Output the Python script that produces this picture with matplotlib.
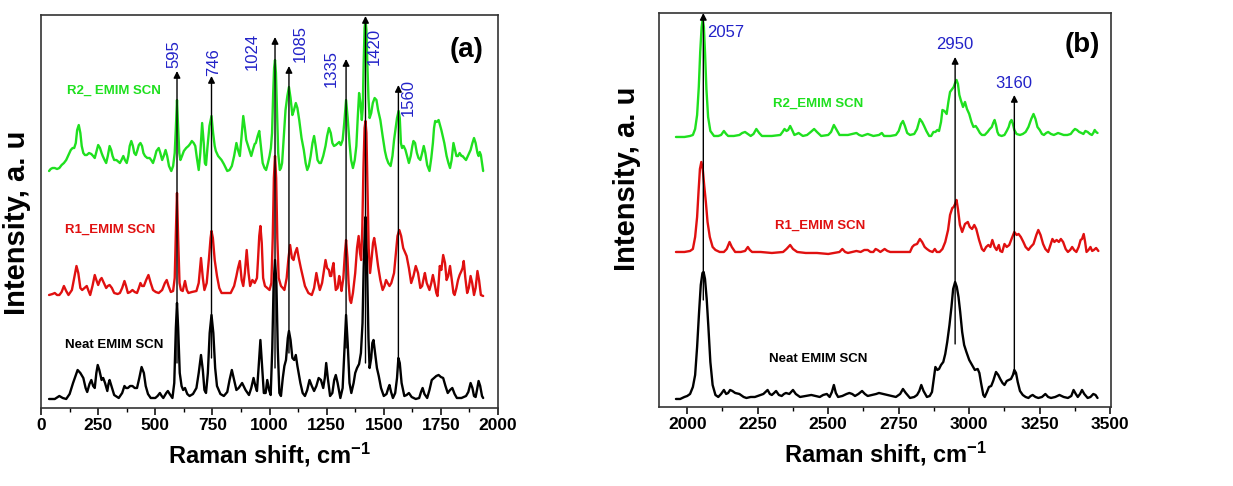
import numpy as np
import matplotlib
matplotlib.use("Agg")
import matplotlib.pyplot as plt
from matplotlib.ticker import MultipleLocator

plt.rcParams['font.family'] = ['Liberation Sans', 'DejaVu Sans']
plt.rcParams['mathtext.fontset'] = 'custom'
plt.rcParams['mathtext.rm'] = 'Liberation Sans:bold'
plt.rcParams['mathtext.default'] = 'rm'

# ==========================================
# panel (a): 0 - 2000 cm-1, (shift, intensity a.u.), spectra stacked with offsets
# ==========================================
neat_a = [(35, 9), (60, 9), (80, 12), (95, 10), (110, 9), (125, 14), (140, 25), (160, 38), (172, 35),
          (185, 30), (195, 20), (202, 16), (212, 24), (220, 28), (228, 22), (235, 20), (242, 35), (248, 43),
          (255, 38), (265, 28), (272, 30), (280, 25), (290, 17), (295, 24), (300, 28), (308, 22), (320, 13),
          (340, 10), (355, 15), (365, 22), (372, 20), (380, 20), (390, 22), (400, 22), (410, 20), (420, 20),
          (430, 30), (440, 41), (450, 35), (458, 22), (468, 14), (480, 10), (500, 10), (510, 12), (520, 15),
          (528, 12), (535, 10), (548, 15), (555, 17), (563, 14), (575, 10), (583, 25), (590, 80), (595, 105),
          (600, 80), (607, 35), (615, 22), (622, 18), (630, 20), (640, 14), (650, 12), (665, 14), (680, 20),
          (690, 35), (700, 53), (708, 38), (715, 18), (722, 15), (730, 35), (738, 75), (746, 93), (754, 75),
          (762, 40), (770, 22), (785, 14), (800, 12), (815, 16), (825, 28), (835, 38), (845, 28), (855, 18),
          (865, 20), (880, 25), (895, 18), (910, 13), (920, 20), (930, 30), (938, 22), (945, 17), (952, 40),
          (960, 68), (968, 40), (975, 15), (983, 15), (990, 28), (998, 18), (1005, 13), (1012, 60),
          (1018, 125), (1024, 148), (1030, 125), (1036, 60), (1043, 15), (1050, 12), (1058, 30), (1065, 42),
          (1072, 48), (1080, 70), (1085, 77), (1092, 68), (1100, 50), (1108, 48), (1115, 53), (1122, 42),
          (1135, 25), (1145, 15), (1155, 12), (1165, 18), (1175, 28), (1185, 22), (1195, 17), (1205, 22),
          (1215, 30), (1225, 28), (1235, 20), (1242, 30), (1248, 45), (1255, 30), (1265, 12), (1275, 15),
          (1283, 28), (1290, 33), (1298, 25), (1310, 10), (1320, 20), (1328, 60), (1335, 93), (1342, 65),
          (1350, 25), (1358, 15), (1368, 25), (1375, 35), (1383, 40), (1392, 44), (1400, 55), (1407, 85),
          (1412, 140), (1417, 180), (1420, 191), (1424, 175), (1428, 130), (1433, 70), (1438, 40), (1445, 50),
          (1450, 65), (1455, 68), (1462, 55), (1470, 40), (1478, 32), (1488, 20), (1500, 12), (1512, 14),
          (1520, 20), (1525, 23), (1532, 16), (1540, 10), (1550, 15), (1558, 30), (1564, 50), (1570, 45),
          (1578, 25), (1590, 12), (1600, 13), (1610, 15), (1622, 11), (1640, 9), (1655, 10), (1663, 16),
          (1670, 20), (1678, 14), (1690, 10), (1700, 18), (1710, 28), (1720, 30), (1730, 32), (1740, 33),
          (1750, 31), (1760, 30), (1770, 22), (1780, 15), (1790, 18), (1800, 20), (1810, 14), (1820, 10),
          (1840, 10), (1860, 12), (1870, 16), (1880, 25), (1888, 20), (1895, 12), (1902, 11), (1908, 18),
          (1915, 27), (1922, 22), (1930, 12), (1935, 10)]

r1_a = [(35, 113), (50, 114), (60, 115), (70, 113), (80, 113), (90, 116), (100, 122), (110, 117), (120, 113),
        (135, 118), (145, 130), (155, 142), (163, 135), (172, 120), (180, 118), (190, 120), (200, 122),
        (208, 117), (215, 113), (225, 122), (235, 133), (242, 128), (250, 123), (258, 128), (265, 130),
        (275, 125), (285, 120), (292, 122), (300, 123), (310, 120), (320, 115), (335, 114), (345, 115),
        (355, 120), (365, 127), (372, 122), (380, 115), (390, 116), (400, 118), (410, 116), (420, 115),
        (428, 120), (435, 125), (442, 122), (450, 122), (460, 128), (470, 133), (480, 125), (490, 118),
        (502, 116), (515, 115), (530, 118), (542, 125), (550, 128), (558, 122), (568, 116), (578, 117),
        (585, 130), (590, 175), (595, 215), (600, 170), (606, 125), (612, 118), (620, 117), (630, 127),
        (638, 118), (645, 115), (660, 116), (680, 117), (690, 125), (700, 150), (708, 130), (715, 118),
        (725, 125), (735, 150), (742, 170), (746, 177), (752, 170), (760, 148), (770, 132), (780, 120),
        (790, 115), (810, 115), (830, 115), (845, 122), (855, 132), (862, 140), (870, 147), (878, 128),
        (885, 122), (892, 135), (900, 158), (908, 135), (915, 122), (925, 128), (935, 125), (945, 130),
        (950, 150), (955, 172), (960, 182), (966, 165), (972, 130), (980, 122), (990, 120), (1000, 118),
        (1008, 125), (1014, 170), (1019, 230), (1024, 252), (1029, 230), (1034, 170), (1040, 130),
        (1050, 122), (1058, 120), (1065, 118), (1075, 130), (1083, 150), (1090, 163), (1098, 150),
        (1105, 148), (1112, 155), (1120, 160), (1128, 150), (1137, 140), (1145, 132), (1155, 122),
        (1170, 115), (1185, 113), (1195, 120), (1205, 135), (1213, 125), (1220, 118), (1230, 125),
        (1240, 140), (1245, 148), (1252, 140), (1260, 138), (1265, 132), (1270, 132), (1275, 140),
        (1280, 145), (1285, 130), (1290, 118), (1298, 120), (1305, 132), (1310, 125), (1315, 117),
        (1323, 130), (1330, 155), (1335, 168), (1341, 150), (1346, 125), (1352, 108), (1357, 105),
        (1365, 115), (1375, 135), (1383, 160), (1390, 172), (1396, 155), (1401, 148), (1406, 180),
        (1411, 240), (1416, 280), (1420, 287), (1424, 275), (1429, 220), (1434, 160), (1440, 135),
        (1447, 150), (1453, 165), (1458, 170), (1465, 160), (1475, 142), (1485, 128), (1495, 118),
        (1503, 122), (1510, 128), (1517, 125), (1525, 122), (1533, 125), (1545, 135), (1553, 155),
        (1560, 172), (1568, 178), (1576, 172), (1585, 160), (1600, 152), (1610, 140), (1620, 125),
        (1630, 132), (1640, 142), (1650, 135), (1660, 120), (1668, 122), (1675, 130), (1680, 135),
        (1688, 125), (1700, 118), (1708, 125), (1715, 133), (1722, 125), (1730, 115), (1735, 112),
        (1740, 125), (1745, 142), (1752, 138), (1760, 153), (1768, 145), (1775, 128), (1782, 132),
        (1790, 142), (1798, 128), (1805, 115), (1810, 113), (1818, 120), (1825, 128), (1832, 133),
        (1840, 137), (1845, 140), (1850, 147), (1857, 130), (1865, 115), (1872, 120), (1880, 132),
        (1887, 125), (1895, 113), (1902, 120), (1910, 137), (1917, 128), (1925, 113), (1935, 112)]

r2_a = [(35, 237), (42, 239), (50, 240), (60, 240), (70, 239), (80, 240), (90, 243), (100, 245), (110, 248),
        (120, 253), (130, 258), (138, 260), (145, 260), (152, 265), (158, 278), (165, 283), (172, 275),
        (178, 262), (185, 255), (192, 253), (200, 253), (210, 255), (220, 254), (228, 252), (235, 250),
        (242, 256), (250, 263), (258, 260), (265, 255), (270, 252), (278, 248), (285, 245), (292, 252),
        (300, 262), (307, 258), (313, 252), (320, 248), (330, 248), (345, 245), (352, 248), (360, 252),
        (367, 248), (375, 245), (382, 252), (388, 262), (395, 267), (402, 262), (408, 255), (415, 253),
        (422, 258), (428, 263), (435, 265), (442, 262), (448, 255), (455, 252), (465, 250), (475, 250),
        (482, 248), (490, 245), (497, 250), (505, 257), (515, 260), (522, 255), (530, 248), (537, 252),
        (545, 258), (552, 252), (560, 242), (570, 237), (578, 242), (585, 255), (590, 280), (595, 308),
        (600, 280), (605, 255), (610, 248), (617, 252), (625, 257), (635, 260), (645, 262), (652, 264),
        (660, 267), (668, 265), (675, 262), (682, 250), (690, 238), (697, 255), (705, 285), (712, 265),
        (717, 245), (722, 243), (728, 260), (737, 282), (746, 292), (753, 275), (760, 262), (765, 257),
        (775, 252), (790, 248), (800, 244), (815, 237), (825, 238), (835, 242), (845, 252), (855, 265),
        (862, 258), (870, 252), (877, 270), (885, 292), (892, 280), (898, 268), (905, 263), (912, 258),
        (920, 252), (927, 258), (935, 264), (940, 265), (948, 272), (955, 277), (962, 262), (970, 245),
        (978, 240), (985, 238), (993, 245), (1000, 252), (1006, 260), (1011, 275), (1016, 315), (1020, 340),
        (1024, 348), (1028, 335), (1033, 295), (1038, 255), (1045, 238), (1050, 240), (1055, 245),
        (1062, 270), (1070, 298), (1078, 312), (1085, 321), (1092, 310), (1100, 293), (1107, 298),
        (1115, 305), (1122, 300), (1130, 288), (1140, 270), (1150, 258), (1158, 245), (1165, 238),
        (1172, 242), (1180, 252), (1188, 265), (1195, 272), (1202, 262), (1210, 248), (1218, 245),
        (1225, 245), (1235, 252), (1245, 262), (1252, 272), (1260, 280), (1268, 275), (1275, 265),
        (1282, 262), (1290, 263), (1300, 265), (1305, 266), (1312, 263), (1320, 268), (1327, 285),
        (1335, 308), (1342, 290), (1350, 265), (1357, 248), (1365, 240), (1373, 248), (1380, 262),
        (1386, 290), (1392, 315), (1398, 305), (1404, 288), (1408, 300), (1412, 345), (1416, 380),
        (1420, 388), (1424, 378), (1428, 345), (1433, 310), (1438, 290), (1445, 295), (1452, 305),
        (1460, 310), (1468, 308), (1475, 298), (1485, 288), (1495, 272), (1505, 257), (1512, 250),
        (1520, 245), (1530, 242), (1538, 252), (1545, 268), (1552, 280), (1558, 290), (1565, 297),
        (1570, 290), (1575, 265), (1580, 260), (1587, 262), (1595, 258), (1602, 252), (1610, 245),
        (1618, 252), (1625, 262), (1630, 267), (1637, 265), (1645, 255), (1652, 250), (1660, 248),
        (1668, 255), (1675, 262), (1682, 255), (1690, 243), (1700, 237), (1708, 250), (1715, 265),
        (1720, 280), (1725, 287), (1732, 286), (1740, 288), (1747, 282), (1752, 278), (1758, 272),
        (1765, 265), (1775, 252), (1783, 245), (1790, 240), (1797, 248), (1805, 265), (1812, 258),
        (1818, 252), (1825, 252), (1832, 255), (1840, 252), (1845, 252), (1852, 250), (1860, 248),
        (1868, 252), (1880, 258), (1888, 265), (1895, 270), (1902, 265), (1910, 255), (1915, 252),
        (1920, 256), (1925, 253), (1930, 245), (1935, 237)]

peaks_a = [595, 746, 1024, 1085, 1335, 1420, 1564]
peak_labels_a = ['595', '746', '1024', '1085', '1335', '1420', '1560']
arrow_base_a = [45, 50, 40, 55, 60, 45, 45]
arrow_tip_a = [337, 332, 371, 342, 349, 392, 323]
label_x_a = [580, 756, 925, 1133, 1268, 1458, 1608]
label_y_a = [340, 332, 338, 346, 321, 343, 292]

# ==========================================
# panel (b): 1900 - 3500 cm-1
# ==========================================
neat_b = [(1960, 8), (1975, 8), (1990, 10), (2000, 11), (2010, 13), (2020, 20), (2028, 32), (2035, 60),
          (2042, 95), (2048, 122), (2054, 134), (2058, 135), (2063, 128), (2069, 108), (2075, 80), (2082, 45),
          (2090, 22), (2100, 12), (2110, 10), (2120, 13), (2130, 17), (2138, 13), (2145, 14), (2152, 17),
          (2160, 16), (2170, 14), (2185, 13), (2200, 10), (2210, 9), (2225, 10), (2240, 10), (2250, 11),
          (2260, 12), (2270, 13), (2285, 17), (2293, 13), (2300, 12), (2308, 14), (2315, 16), (2325, 12),
          (2335, 11), (2343, 13), (2350, 14), (2362, 13), (2375, 17), (2385, 13), (2400, 10), (2420, 11),
          (2440, 12), (2455, 11), (2470, 10), (2482, 12), (2495, 13), (2505, 10), (2513, 15), (2520, 22),
          (2527, 14), (2535, 10), (2550, 11), (2565, 13), (2575, 14), (2585, 13), (2595, 11), (2607, 13),
          (2620, 16), (2630, 13), (2640, 11), (2655, 12), (2670, 13), (2680, 14), (2695, 13), (2710, 12),
          (2725, 11), (2740, 10), (2755, 13), (2765, 18), (2775, 14), (2790, 9), (2805, 10), (2815, 12),
          (2823, 16), (2830, 22), (2838, 16), (2850, 10), (2860, 11), (2868, 15), (2875, 30), (2880, 40),
          (2887, 37), (2893, 38), (2900, 42), (2908, 45), (2915, 53), (2922, 65), (2930, 82), (2937, 100),
          (2943, 118), (2950, 125), (2956, 120), (2962, 110), (2968, 95), (2975, 75), (2982, 62), (2990, 55),
          (3000, 47), (3010, 42), (3020, 37), (3030, 38), (3036, 34), (3042, 24), (3050, 12), (3055, 10),
          (3063, 15), (3070, 20), (3078, 21), (3085, 26), (3095, 35), (3103, 32), (3110, 28), (3118, 24),
          (3125, 22), (3133, 26), (3140, 27), (3148, 28), (3155, 32), (3160, 37), (3166, 34), (3172, 25),
          (3180, 16), (3190, 12), (3200, 10), (3210, 9), (3218, 11), (3225, 12), (3235, 10), (3245, 9),
          (3258, 10), (3270, 13), (3280, 10), (3290, 9), (3305, 10), (3320, 12), (3335, 10), (3350, 9),
          (3362, 11), (3370, 17), (3378, 13), (3385, 10), (3393, 13), (3400, 17), (3408, 13), (3420, 9),
          (3430, 10), (3440, 13), (3448, 12), (3455, 9)]

r1_b = [(1960, 155), (1990, 155), (2010, 156), (2020, 158), (2028, 170), (2035, 190), (2040, 215), (2045, 238),
        (2050, 245), (2055, 238), (2060, 222), (2066, 205), (2072, 185), (2080, 170), (2090, 160), (2100, 157),
        (2115, 155), (2130, 155), (2140, 158), (2150, 165), (2158, 160), (2170, 155), (2190, 155), (2205, 156),
        (2215, 160), (2222, 157), (2230, 155), (2260, 155), (2300, 154), (2340, 155), (2352, 158), (2365, 162),
        (2375, 158), (2390, 155), (2420, 154), (2460, 154), (2500, 153), (2520, 154), (2540, 155), (2550, 158),
        (2560, 155), (2570, 154), (2585, 155), (2600, 156), (2615, 155), (2628, 157), (2640, 157), (2650, 155),
        (2660, 155), (2668, 158), (2675, 157), (2685, 155), (2700, 158), (2710, 156), (2720, 155), (2750, 155),
        (2790, 155), (2798, 160), (2805, 162), (2815, 163), (2825, 168), (2833, 165), (2842, 160), (2850, 158),
        (2860, 156), (2870, 155), (2878, 158), (2885, 155), (2895, 155), (2905, 158), (2915, 165), (2925, 177),
        (2932, 192), (2940, 199), (2945, 200), (2950, 203), (2955, 207), (2960, 198), (2967, 182), (2975, 175),
        (2985, 183), (2995, 185), (3002, 180), (3010, 178), (3018, 182), (3025, 178), (3035, 167), (3045, 158),
        (3052, 156), (3060, 160), (3068, 162), (3075, 160), (3082, 167), (3090, 160), (3097, 157), (3105, 162),
        (3110, 156), (3117, 155), (3125, 163), (3133, 160), (3142, 162), (3150, 168), (3160, 175), (3168, 172),
        (3175, 173), (3183, 170), (3192, 165), (3200, 160), (3210, 157), (3218, 160), (3228, 163), (3238, 172),
        (3245, 177), (3253, 172), (3262, 163), (3270, 158), (3280, 155), (3288, 162), (3295, 168), (3302, 165),
        (3310, 167), (3318, 165), (3325, 168), (3333, 165), (3342, 158), (3350, 155), (3358, 157), (3365, 160),
        (3372, 157), (3380, 155), (3388, 160), (3395, 167), (3400, 168), (3406, 173), (3411, 165), (3416, 155),
        (3423, 157), (3430, 160), (3436, 156), (3442, 157), (3450, 159), (3458, 156)]

r2_b = [(1960, 270), (1990, 270), (2010, 271), (2020, 272), (2028, 278), (2035, 292), (2041, 320), (2046, 355),
        (2051, 380), (2055, 388), (2059, 380), (2063, 355), (2068, 318), (2074, 290), (2082, 276), (2095, 271),
        (2110, 271), (2120, 272), (2130, 276), (2138, 273), (2145, 271), (2165, 271), (2185, 272), (2195, 274),
        (2205, 275), (2215, 273), (2225, 271), (2235, 273), (2245, 278), (2255, 274), (2265, 271), (2300, 271),
        (2330, 272), (2338, 275), (2345, 278), (2352, 276), (2358, 277), (2365, 281), (2372, 277), (2380, 272),
        (2388, 273), (2395, 274), (2410, 271), (2425, 272), (2438, 275), (2450, 278), (2460, 275), (2475, 271),
        (2500, 272), (2510, 275), (2520, 282), (2530, 277), (2540, 272), (2570, 272), (2585, 273), (2600, 274),
        (2610, 272), (2620, 271), (2630, 272), (2640, 273), (2650, 272), (2660, 271), (2680, 272), (2690, 274),
        (2698, 271), (2720, 271), (2740, 272), (2750, 276), (2758, 283), (2765, 286), (2772, 281), (2780, 274),
        (2790, 272), (2805, 273), (2815, 278), (2825, 288), (2833, 285), (2840, 281), (2848, 276), (2858, 271),
        (2865, 271), (2873, 275), (2880, 275), (2887, 277), (2893, 276), (2900, 285), (2905, 297), (2912, 296),
        (2920, 293), (2926, 305), (2932, 315), (2940, 318), (2945, 320), (2950, 324), (2955, 327), (2960, 323),
        (2965, 312), (2970, 307), (2978, 300), (2985, 305), (2992, 298), (3000, 293), (3008, 285), (3015, 280),
        (3023, 281), (3030, 278), (3038, 274), (3045, 272), (3055, 272), (3065, 275), (3073, 278), (3080, 280),
        (3085, 284), (3090, 287), (3095, 282), (3100, 275), (3105, 272), (3115, 271), (3125, 272), (3133, 276),
        (3140, 280), (3145, 285), (3150, 287), (3155, 283), (3160, 277), (3168, 273), (3180, 272), (3190, 273),
        (3200, 275), (3210, 280), (3220, 288), (3228, 293), (3235, 288), (3242, 280), (3250, 277), (3258, 273),
        (3265, 272), (3273, 274), (3280, 275), (3290, 273), (3300, 272), (3308, 273), (3315, 274), (3325, 273),
        (3335, 272), (3348, 272), (3360, 273), (3368, 276), (3375, 278), (3382, 277), (3390, 275), (3398, 274),
        (3405, 273), (3412, 276), (3420, 275), (3428, 273), (3435, 272), (3440, 274), (3445, 277), (3450, 275),
        (3455, 274)]

peaks_b = [2057, 2950, 3160]
peak_labels_b = ['2057', '2950', '3160']
arrow_base_b = [107, 63, 33]
arrow_tip_b = [394, 350, 312]
label_x_b = [2069, 2950, 3158]
label_y_b = [374, 362, 323]

# colours
GREEN = '#1fe01f'
RED = '#e01010'
BLUE = '#2222c8'

fig = plt.figure(figsize=(12.33, 4.86), dpi=100)
ax1 = fig.add_axes([0.0333, 0.1605, 0.3706, 0.8086])
ax2 = fig.add_axes([0.5345, 0.1626, 0.3666, 0.8107])

series_font = dict(fontsize=9.5, fontweight='bold')


def draw_spectrum(ax, pts, color):
    x, y = zip(*pts)
    ax.plot(x, y, color=color, lw=1.7, solid_joinstyle='round', solid_capstyle='round')


def draw_arrow(ax, px, base, tip):
    ax.annotate('', xy=(px, tip), xytext=(px, base),
                arrowprops=dict(arrowstyle='-|>', color='black', lw=1.0, mutation_scale=10,
                                shrinkA=0, shrinkB=0))


def style_axis(ax, xlim, ylim):
    ax.set_xlim(xlim)
    ax.set_ylim(ylim)
    ax.xaxis.set_major_locator(MultipleLocator(250))
    ax.xaxis.set_minor_locator(MultipleLocator(125))
    ax.tick_params(axis='x', which='major', direction='out', length=5, width=1.1,
                   labelsize=12.5, pad=2)
    ax.tick_params(axis='x', which='minor', direction='out', length=3, width=1.0)
    ax.set_yticks([])
    for lab in ax.get_xticklabels():
        lab.set_fontweight('bold')
    for s in ax.spines.values():
        s.set_linewidth(1.2)
        s.set_color('#333333')
    ax.set_xlabel(r'Raman shift, cm$^{-1}$', fontsize=17, fontweight='bold', labelpad=6)
    ax.set_ylabel('Intensity, a. u', fontsize=21, fontweight='bold', labelpad=4)


# ---- (a)
draw_spectrum(ax1, neat_a, 'black')
draw_spectrum(ax1, r1_a, RED)
draw_spectrum(ax1, r2_a, GREEN)
for px, b, t, lab, lx, ly in zip(peaks_a, arrow_base_a, arrow_tip_a, peak_labels_a, label_x_a, label_y_a):
    draw_arrow(ax1, px, b, t)
    ax1.text(lx, ly, lab, rotation=90, color=BLUE, fontsize=12, ha='center', va='bottom')
ax1.text(318, 317, 'R2_ EMIM SCN', color=GREEN, ha='center', va='center', **series_font)
ax1.text(303, 178, 'R1_EMIM SCN', color=RED, ha='center', va='center', **series_font)
ax1.text(321, 63, 'Neat EMIM SCN', color='black', ha='center', va='center', **series_font)
ax1.text(1864, 358, '(a)', fontsize=20, fontweight='bold', ha='center', va='center')
style_axis(ax1, (0, 2000), (0, 393))
ax1.yaxis.set_label_coords(-0.022, 0.47)

# ---- (b)
draw_spectrum(ax2, neat_b, 'black')
draw_spectrum(ax2, r1_b, RED)
draw_spectrum(ax2, r2_b, GREEN)
for px, b, t in zip(peaks_b, arrow_base_b, arrow_tip_b):
    draw_arrow(ax2, px, b, t)
ax2.text(label_x_b[0], label_y_b[0], peak_labels_b[0], color=BLUE, fontsize=12, ha='left', va='center')
for lab, lx, ly in zip(peak_labels_b[1:], label_x_b[1:], label_y_b[1:]):
    ax2.text(lx, ly, lab, color=BLUE, fontsize=12, ha='center', va='center')
ax2.text(2464, 303, 'R2_EMIM SCN', color=GREEN, ha='center', va='center', **series_font)
ax2.text(2472, 181, 'R1_EMIM SCN', color=RED, ha='center', va='center', **series_font)
ax2.text(2466, 48, 'Neat EMIM SCN', color='black', ha='center', va='center', **series_font)
ax2.text(3400, 362, '(b)', fontsize=20, fontweight='bold', ha='center', va='center')
style_axis(ax2, (1900, 3503), (0, 394))
ax2.yaxis.set_label_coords(-0.04, 0.58)

fig.savefig('out.png', dpi=100)
